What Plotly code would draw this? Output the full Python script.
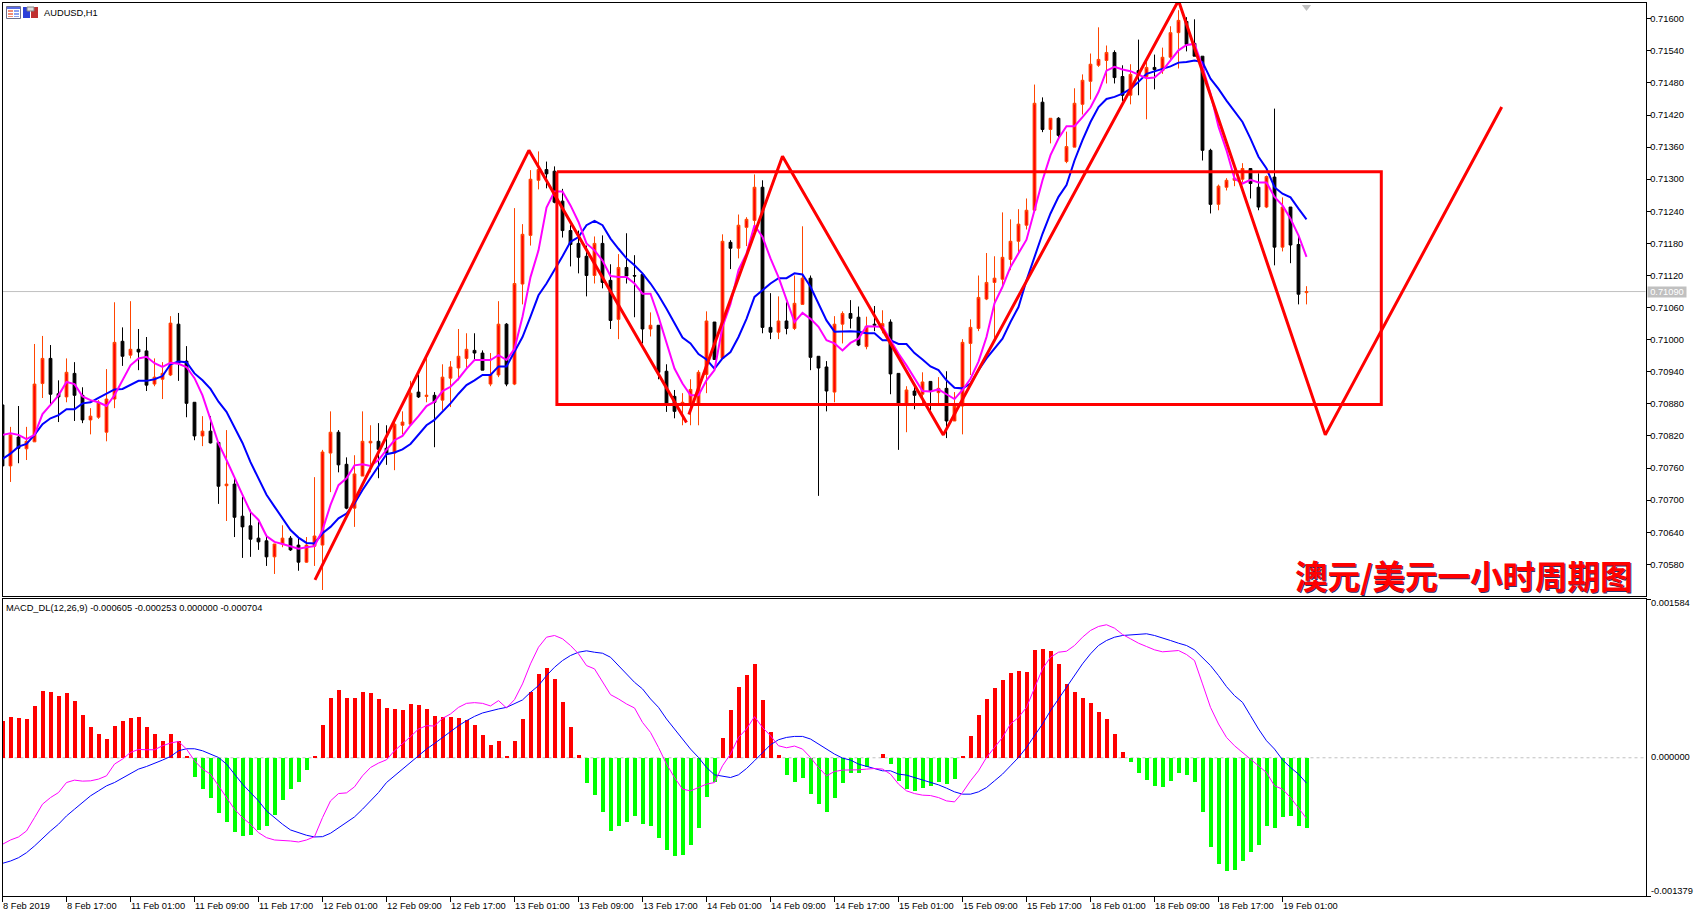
import plotly.graph_objects as go

W, H = 1696, 916

# AUDUSD H1 candles, in points (1 point = 0.00001)
open_pts = [70878,70764,70818,70796,70809,70918,70965,70899,70893,70937,
            70896,70850,70855,70827,70889,70997,70971,70982,70979,70917,
            70926,70934,71029,70960,70883,70820,70829,70808,70727,70730,
            70670,70652,70629,70624,70594,70618,70629,70616,70584,70614,
            70616,70788,70827,70767,70685,70745,70807,70810,70797,70788,
            70840,70842,70902,70894,70896,70887,70928,70947,70965,70980,
            70975,70917,70934,71029,70917,71104,71195,71298,71318,71315,
            71259,71204,71180,71156,71120,71180,71111,71038,71135,71120,
            71122,71020,71027,70941,70894,70878,70879,70879,70935,71033,
            70965,71182,71171,71210,71223,71285,71023,71014,71035,71021,
            71066,71115,70969,70949,70902,71029,71049,71042,70987,71029,
            71023,71033,70937,70878,70904,70898,70922,70901,70909,70848,
            70876,70993,71021,71076,71107,71113,71150,71184,71214,71242,
            71444,71393,71414,71333,71360,71440,71483,71513,71522,71537,
            71492,71457,71503,71492,71509,71503,71528,71574,71595,71554,
            71530,71354,71253,71285,71298,71300,71320,71285,71248,71304,
            71173,71248,71178,71088]
high_pts = [70878,70837,70876,70837,70992,71007,70990,70924,70965,70958,
            70911,70872,70887,70945,71070,71023,71072,71020,71005,70965,
            70958,71044,71050,70988,70883,70857,70857,70808,70831,70741,
            70706,70682,70659,70635,70618,70653,70633,70631,70631,70743,
            70794,70866,70831,70780,70784,70866,70840,70844,70840,70846,
            70866,70923,70934,70971,70902,70954,70960,71020,71012,71012,
            70980,70975,71072,71031,71246,71216,71317,71352,71333,71324,
            71282,71214,71204,71176,71193,71195,71141,71160,71199,71158,
            71124,71051,71027,70954,70906,70900,70926,70943,71053,71033,
            71197,71186,71234,71229,71309,71298,71087,71081,71070,71120,
            71212,71120,70969,70960,71044,71053,71074,71062,71043,71063,
            71055,71038,70937,70913,70912,70939,70922,70930,70941,70902,
            71001,71038,71120,71162,71156,71238,71225,71244,71264,71477,
            71453,71414,71416,71389,71470,71496,71535,71584,71550,71541,
            71513,71515,71561,71520,71533,71546,71586,71616,71603,71599,
            71530,71357,71290,71302,71317,71330,71320,71311,71307,71432,
            71266,71248,71195,71100]
low_pts = [70764,70734,70769,70775,70809,70891,70878,70846,70883,70848,
           70844,70823,70852,70810,70872,70951,70965,70943,70904,70913,
           70889,70932,70923,70855,70812,70801,70806,70693,70661,70631,
           70592,70594,70607,70577,70562,70612,70605,70568,70583,70577,
           70532,70715,70752,70683,70650,70745,70752,70741,70766,70756,
           70823,70840,70891,70883,70799,70868,70874,70924,70946,70963,
           70943,70913,70930,70913,70915,71066,71176,71281,71283,71255,
           71191,71137,71124,71081,71105,71096,71020,71001,71105,71042,
           70993,71006,70926,70865,70853,70840,70840,70840,70900,70962,
           70965,71132,71152,71175,71204,71012,71001,71001,71010,71018,
           71066,70943,70708,70866,70883,70993,71021,70988,70982,71016,
           71012,70898,70794,70827,70870,70880,70868,70878,70816,70848,
           70823,70934,71016,71074,71003,71099,71130,71160,71206,71242,
           71388,71367,71378,71330,71360,71421,71449,71510,71479,71479,
           71446,71440,71457,71412,71468,71497,71520,71507,71539,71530,
           71335,71236,71242,71279,71287,71294,71264,71242,71246,71139,
           71165,71143,71066,71066]
close_pts = [70764,70822,70797,70810,70917,70965,70898,70893,70939,70896,
             70850,70857,70883,70889,70995,70969,70982,70977,70915,70930,
             70937,71031,70956,70881,70820,70829,70807,70726,70730,70668,
             70650,70627,70622,70594,70618,70629,70607,70584,70616,70633,
             70790,70827,70766,70685,70749,70810,70810,70795,70788,70842,
             70846,70900,70893,70896,70883,70930,70949,70969,70982,70975,
             70943,70935,71029,70917,71105,71197,71300,71318,71310,71257,
             71204,71178,71154,71120,71180,71107,71036,71135,71119,71119,
             71020,71027,70939,70879,70866,70883,70907,70939,71035,70963,
             71184,71171,71214,71225,71285,71023,71014,71035,71021,71068,
             71115,70967,70947,70904,71029,71049,71040,70990,71025,71027,
             71030,70936,70878,70906,70896,70921,70903,70909,70848,70876,
             70995,71023,71079,71107,71115,71154,71184,71216,71242,71442,
             71393,71414,71382,71361,71442,71485,71515,71524,71537,71490,
             71457,71496,71494,71509,71505,71528,71574,71597,71552,71530,
             71354,71253,71287,71298,71302,71320,71292,71248,71305,71173,
             71248,71177,71085,71090]

# Moving averages on the price panel, in points
ma_fast_pts = [70822,70825,70822,70814,70822,70861,70878,70896,70921,70917,
               70894,70887,70883,70876,70896,70924,70952,70965,70968,70956,
               70949,70957,70955,70949,70928,70896,70850,70806,70775,70744,
               70710,70678,70663,70633,70622,70618,70614,70609,70612,70614,
               70644,70691,70728,70741,70765,70767,70764,70775,70794,70812,
               70820,70840,70857,70876,70884,70904,70912,70927,70946,70962,
               70962,70962,70971,70962,70983,71043,71117,71167,71247,71277,
               71277,71251,71220,71180,71167,71148,71119,71117,71117,71105,
               71086,71086,71043,70996,70946,70918,70896,70896,70924,70943,
               71024,71067,71130,71161,71214,71192,71152,71117,71074,71033,
               71050,71039,71024,70999,70993,70980,70994,71002,71025,71025,
               71024,70999,70974,70952,70927,70904,70903,70907,70898,70889,
               70906,70927,70959,71005,71068,71099,71136,71161,71187,71242,
               71298,71345,71376,71399,71399,71416,71434,71463,71503,71510,
               71505,71502,71496,71489,71490,71503,71522,71541,71551,71553,
               71510,71460,71398,71354,71301,71292,71299,71294,71294,71267,
               71251,71226,71195,71155]
ma_slow_pts = [70777,70787,70800,70805,70822,70842,70853,70859,70870,70870,
               70881,70883,70891,70899,70907,70908,70916,70923,70923,70926,
               70932,70954,70959,70958,70937,70924,70908,70884,70865,70837,
               70807,70771,70741,70710,70688,70666,70644,70630,70620,70619,
               70638,70650,70666,70675,70694,70719,70741,70764,70786,70789,
               70795,70805,70823,70840,70850,70865,70881,70899,70915,70924,
               70934,70934,70950,70950,70977,71005,71043,71083,71105,71130,
               71156,71183,71192,71214,71222,71214,71189,71170,71152,71139,
               71124,71105,71083,71058,71030,71004,70993,70973,70963,70946,
               70965,70977,71005,71039,71080,71092,71105,71115,71115,71124,
               71122,71099,71067,71036,71015,71016,71016,71015,71012,71012,
               70999,70999,70992,70992,70975,70963,70950,70943,70924,70910,
               70909,70918,70943,70965,70983,71002,71033,71061,71111,71155,
               71198,71236,71267,71289,71335,71373,71407,71435,71450,71454,
               71460,71469,71482,71497,71502,71507,71511,71518,71519,71522,
               71519,71488,71469,71447,71426,71407,71376,71342,71320,71285,
               71273,71266,71245,71225]

# MACD panel, in millionths
macd_hist = [370,410,400,390,520,670,660,620,650,570,
             430,310,240,190,320,370,400,410,310,240,
             170,240,170,10,-190,-310,-400,-550,-640,-740,
             -780,-770,-720,-680,-570,-420,-310,-240,-120,10,
             330,600,680,600,600,660,650,590,500,490,
             480,540,530,490,420,410,410,400,380,330,
             230,130,170,20,170,390,660,840,900,790,
             560,310,30,-250,-370,-540,-730,-680,-640,-580,
             -660,-680,-800,-920,-980,-970,-870,-700,-390,-240,
             200,480,710,830,940,580,260,30,-170,-240,
             -200,-360,-460,-540,-400,-250,-150,-150,-90,0,
             40,-60,-230,-310,-330,-300,-280,-240,-260,-210,
             20,220,430,590,700,780,850,870,860,1080,
             1090,1070,940,740,660,600,550,460,390,240,
             60,-40,-150,-220,-280,-290,-230,-150,-170,-240,
             -540,-890,-1060,-1130,-1120,-1030,-940,-870,-680,-700,
             -590,-580,-680,-704]
macd_fast = [-863,-820,-790,-730,-597,-463,-397,-347,-247,-223,
             -233,-230,-213,-180,-63,-13,53,83,80,80,
             120,147,163,87,-30,-113,-163,-280,-397,-513,
             -597,-663,-747,-797,-820,-823,-830,-840,-820,-787,
             -597,-430,-357,-350,-290,-180,-97,-53,-20,70,
             137,210,287,320,317,393,437,503,543,550,
             543,517,570,497,580,737,937,1103,1203,1220,
             1187,1120,1037,920,887,753,630,587,537,497,
             353,253,103,-63,-197,-313,-330,-297,-263,-247,
             -80,37,203,287,410,303,220,120,100,117,
             87,3,-97,-180,-137,-123,-123,-120,-113,-107,
             -113,-163,-263,-330,-357,-373,-377,-397,-430,-440,
             -347,-230,-130,3,103,203,337,403,503,703,
             887,1003,1053,1063,1120,1203,1270,1310,1327,1293,
             1230,1187,1143,1110,1077,1057,1060,1070,1030,970,
             737,503,337,203,120,53,-13,-80,-147,-280,
             -313,-397,-497,-605]
macd_slow = [-1053,-1030,-997,-947,-880,-803,-730,-663,-580,-513,
             -447,-380,-330,-280,-247,-203,-157,-113,-87,-57,
             -23,13,70,90,90,70,37,3,-63,-163,
             -263,-347,-430,-530,-597,-663,-720,-747,-773,-790,
             -787,-753,-697,-647,-590,-513,-430,-347,-247,-180,
             -113,-47,20,87,143,203,263,320,370,413,
             447,470,487,503,537,577,653,720,820,903,
             970,1020,1053,1067,1053,1043,1003,920,837,753,
             687,587,503,387,287,187,87,3,-97,-170,
             -187,-197,-170,-107,-30,53,130,180,203,213,
             213,187,137,80,37,-3,-23,-63,-87,-113,
             -130,-130,-163,-173,-197,-220,-247,-270,-303,-340,
             -363,-363,-340,-297,-230,-163,-80,3,103,220,
             337,470,587,703,820,937,1037,1120,1170,1203,
             1220,1227,1237,1237,1220,1197,1170,1143,1120,1077,
             1003,920,820,710,620,553,420,287,170,87,
             -20,-97,-163,-253]

# Hand-drawn annotations: bar number and price in points
zig_a_bar = [39.06,65.8,85.5]
zig_a_pts = [70551,71354,70845]
zig_b_bar = [85.8,97.5,117.6,147.0,165.35,187.4]
zig_b_pts = [70860,71343,70822,71634,70822,71435]
box_bar = [69.3,172.35,172.35,69.3,69.3]
box_pts = [71314,71314,70879,70879,71314]

price_ticks = ["0.70580","0.70640","0.70700","0.70760","0.70820","0.70880",
               "0.70940","0.71000","0.71060","0.71120","0.71180","0.71240",
               "0.71300","0.71360","0.71420","0.71480","0.71540","0.71600"]
date_tick_bars = list(range(0,161,8))
date_labels = ["8 Feb 2019","8 Feb 17:00","11 Feb 01:00","11 Feb 09:00","11 Feb 17:00",
               "12 Feb 01:00","12 Feb 09:00","12 Feb 17:00","13 Feb 01:00","13 Feb 09:00",
               "13 Feb 17:00","14 Feb 01:00","14 Feb 09:00","14 Feb 17:00","15 Feb 01:00",
               "15 Feb 09:00","15 Feb 17:00","18 Feb 01:00","18 Feb 09:00","18 Feb 17:00",
               "19 Feb 01:00"]
last_price = 0.71090
macd_top, macd_bottom = 0.001584, -0.001379
indicator_text = "MACD_DL(12,26,9) -0.000605 -0.000253 0.000000 -0.000704"
symbol_text = "AUDUSD,H1"
title_text = "澳元/美元一小时周期图"

FONT = "Liberation Sans"
TXT = dict(family=FONT, size=9.3, color="#000000")
bars = list(range(len(open_pts)))


def px_x(x):
    return x / W


def px_y(y):
    return 1 - y / H


def scale(values, factor):
    return [v * factor for v in values]


fig = go.Figure()

fig.add_trace(go.Candlestick(
    x=bars,
    open=scale(open_pts, 1e-5), high=scale(high_pts, 1e-5),
    low=scale(low_pts, 1e-5), close=scale(close_pts, 1e-5),
    increasing=dict(line=dict(color="#FF4500", width=1), fillcolor="#FF0000"),
    decreasing=dict(line=dict(color="#000000", width=1), fillcolor="#000000"),
    whiskerwidth=0, xaxis="x", yaxis="y", showlegend=False, hoverinfo="skip",
))
for values, color in ((ma_slow_pts, "#0000FF"), (ma_fast_pts, "#FF00FF")):
    fig.add_trace(go.Scatter(x=bars, y=scale(values, 1e-5), mode="lines",
                             line=dict(color=color, width=2),
                             xaxis="x", yaxis="y", showlegend=False, hoverinfo="skip"))
for xs, ys in ((box_bar, box_pts), (zig_a_bar, zig_a_pts), (zig_b_bar, zig_b_pts)):
    fig.add_trace(go.Scatter(x=xs, y=scale(ys, 1e-5), mode="lines",
                             line=dict(color="#FF0000", width=3),
                             xaxis="x", yaxis="y", showlegend=False, hoverinfo="skip"))
fig.add_trace(go.Scatter(x=[bars[-1]], y=[0.71622], mode="markers",
                         marker=dict(symbol="triangle-down", size=8, color="#C0C0C0"),
                         xaxis="x", yaxis="y", showlegend=False, hoverinfo="skip"))

fig.add_trace(go.Bar(
    x=bars, y=scale(macd_hist, 1e-6), width=0.5,
    marker=dict(color=["#FF0000" if v >= 0 else "#00FF00" for v in macd_hist],
                line=dict(width=0)),
    xaxis="x2", yaxis="y2", showlegend=False, hoverinfo="skip",
))
for values, color in ((macd_slow, "#0000FF"), (macd_fast, "#FF00FF")):
    fig.add_trace(go.Scatter(x=bars, y=scale(values, 1e-6), mode="lines",
                             line=dict(color=color, width=1),
                             xaxis="x2", yaxis="y2", showlegend=False, hoverinfo="skip"))

x_range = [0, 205.375]
x_domain = [px_x(2.5), px_x(1645.5)]
frame = dict(showline=True, linecolor="#000000", linewidth=1, mirror=True,
             showgrid=False, zeroline=False)

shapes = [
    dict(type="line", xref="x domain", yref="y", x0=0, x1=1, y0=last_price, y1=last_price,
         layer="below", line=dict(color="#C0C0C0", width=1)),
    dict(type="line", xref="x2 domain", yref="y2", x0=0, x1=1, y0=0, y1=0,
         layer="below", line=dict(color="#C0C0C0", width=1, dash="3px,3px")),
]


def rect(x0, y0, x1, y1, color, line=None):
    return dict(type="rect", xref="paper", yref="paper",
                x0=px_x(x0), x1=px_x(x1), y0=px_y(y0), y1=px_y(y1),
                fillcolor=color, line=dict(width=1 if line else 0, color=line or color))


# Toolbar glyphs beside the symbol name
shapes += [
    rect(6.5, 6.5, 20.5, 18.5, "#FFFFFF", "#6E6E8C"),
    rect(7, 7, 20, 9, "#5A6EE6"),
    rect(8, 10, 13, 12, "#F08C78"), rect(14, 10, 19, 12, "#8CA0F0"),
    rect(8, 13, 13, 15, "#F08C78"), rect(14, 13, 19, 15, "#8CA0F0"),
    rect(8, 16, 13, 17, "#F08C78"), rect(14, 16, 19, 17, "#8CA0F0"),
    rect(23, 7, 30, 18, "#2B3FD8"), rect(31, 7, 38, 18, "#C03030"),
    rect(27, 7, 34, 11, "#DDDDDD", "#808080"),
]

annotations = [
    dict(xref="paper", yref="paper", x=px_x(41.5), y=px_y(12.5), xanchor="left", yanchor="middle",
         text=symbol_text, showarrow=False, font=TXT),
    dict(xref="paper", yref="paper", x=px_x(3.5), y=px_y(607.5), xanchor="left", yanchor="middle",
         text=indicator_text, showarrow=False, font=TXT),
    dict(xref="paper", yref="paper", x=px_x(1293), y=px_y(574), xanchor="left", yanchor="middle",
         text=title_text, showarrow=False,
         font=dict(family="Noto Sans CJK SC", size=32.5, color="#FF0000",
                   weight="bold", shadow="1px 1px 0 #30306A")),
    dict(xref="paper", yref="paper", x=px_x(1646.5), y=px_y(291.5), xanchor="left", yanchor="middle",
         text=f"{last_price:.5f}", showarrow=False, bgcolor="#C0C0C0", borderpad=0,
         width=38, height=10, align="center",
         font=dict(family=FONT, size=9.3, color="#FFFFFF")),
    dict(xref="paper", yref="paper", x=px_x(1648.5), y=px_y(603), xanchor="left", yanchor="middle",
         text=f"{macd_top:.6f}", showarrow=False, font=TXT),
    dict(xref="paper", yref="paper", x=px_x(1648.5), y=px_y(757), xanchor="left", yanchor="middle",
         text="0.000000", showarrow=False, font=TXT),
    dict(xref="paper", yref="paper", x=px_x(1648.5), y=px_y(890.5), xanchor="left", yanchor="middle",
         text=f"{macd_bottom:.6f}", showarrow=False, font=TXT),
]
for bar, label in zip(date_tick_bars, date_labels):
    annotations.append(dict(xref="x2", yref="paper", x=bar, y=px_y(905.5),
                            xanchor="left", yanchor="middle", xshift=-2,
                            text=label, showarrow=False, font=TXT))

fig.update_layout(
    width=W, height=H, autosize=False,
    margin=dict(l=0, r=0, t=0, b=0, pad=0),
    paper_bgcolor="#FFFFFF", plot_bgcolor="#FFFFFF",
    showlegend=False, bargap=0, barmode="overlay", boxgap=0.5,
    shapes=shapes, annotations=annotations,
    xaxis=dict(domain=x_domain, range=x_range, anchor="y", showticklabels=False,
               ticks="", rangeslider=dict(visible=False), **frame),
    yaxis=dict(domain=[px_y(596), px_y(2.5)],
               range=[0.705208, 0.716304], side="right", anchor="x",
               tickvals=[float(t) for t in price_ticks], ticktext=price_ticks,
               ticks="outside", ticklen=4, tickwidth=1, tickcolor="#000000",
               ticklabelstandoff=-2, tickfont=TXT, **frame),
    xaxis2=dict(domain=x_domain, range=x_range, anchor="y2", showticklabels=False,
                tickvals=date_tick_bars, ticks="outside", ticklen=5, tickwidth=1,
                tickcolor="#000000", **frame),
    yaxis2=dict(domain=[px_y(896), px_y(599)],
                range=[macd_bottom, macd_top], side="right", anchor="x2",
                tickvals=[macd_bottom, macd_top], showticklabels=False,
                ticks="outside", ticklen=4, tickwidth=1, tickcolor="#000000", **frame),
)

fig.write_html("out.html", config=dict(displayModeBar=False))
